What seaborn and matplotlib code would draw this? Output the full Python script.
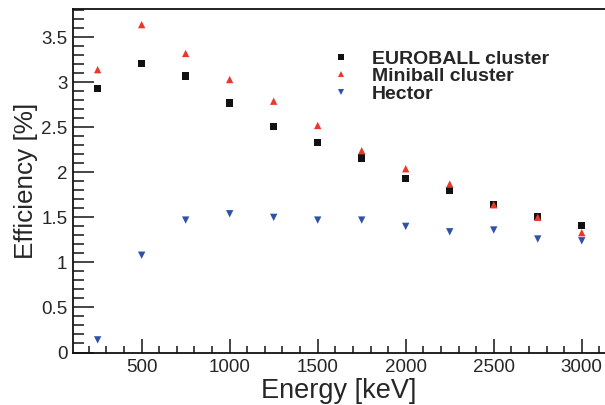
import numpy as np
import pandas as pd
import matplotlib
matplotlib.use("Agg")
import matplotlib.pyplot as plt
import seaborn as sns
from matplotlib.ticker import MultipleLocator

energy = [250, 500, 750, 1000, 1250, 1500, 1750, 2000, 2250, 2500, 2750, 3000]
euroball = [2.93, 3.21, 3.07, 2.77, 2.51, 2.33, 2.16, 1.93, 1.80, 1.64, 1.51, 1.41]
miniball = [3.14, 3.64, 3.32, 3.03, 2.79, 2.52, 2.24, 2.04, 1.87, 1.64, 1.50, 1.33]
hector = [0.14, 1.08, 1.47, 1.54, 1.50, 1.47, 1.47, 1.40, 1.34, 1.36, 1.26, 1.24]
series = ["EUROBALL cluster", "Miniball cluster", "Hector"]

df = pd.concat([
    pd.DataFrame({"Energy": energy, "Eff": euroball, "Detector": series[0]}),
    pd.DataFrame({"Energy": energy, "Eff": miniball, "Detector": series[1]}),
    pd.DataFrame({"Energy": energy, "Eff": hector, "Detector": series[2]}),
])

sns.set_style("ticks")
plt.rcParams["font.family"] = ["Liberation Sans", "DejaVu Sans"]

fig = plt.figure(figsize=(6.05, 4.05), dpi=100)
W, H = 605, 405
left, right, top, bottom = 73, 605, 9.3, 352.5
ax = fig.add_axes([left / W, 1 - bottom / H, (right - left) / W, (bottom - top) / H])

palette = {series[0]: "#111111", series[1]: "#e8392a", series[2]: "#2f51a8"}
markers = {series[0]: "s", series[1]: "^", series[2]: "v"}
sns.scatterplot(data=df, x="Energy", y="Eff", hue="Detector", style="Detector",
                palette=palette, markers=markers, s=28, linewidth=0, ax=ax)

ax.set_xlim(110, 3132)
ax.set_ylim(0, 3.81)
ax.xaxis.set_minor_locator(MultipleLocator(100))
ax.yaxis.set_minor_locator(MultipleLocator(0.1))
ax.set_xticks([500, 1000, 1500, 2000, 2500, 3000])
ax.set_xticklabels(["500", "1000", "1500", "2000", "2500", "3000"])
ax.set_yticks([0, 0.5, 1, 1.5, 2, 2.5, 3, 3.5])
ax.set_yticklabels(["0", "0.5", "1", "1.5", "2", "2.5", "3", "3.5"])

ax.tick_params(axis="y", which="major", direction="in", length=15, width=1.2, labelsize=13.5, pad=4)
ax.tick_params(axis="y", which="minor", direction="in", length=8, width=1.2)
ax.tick_params(axis="x", which="major", direction="in", length=10, width=1.2, labelsize=13.5, pad=5)
ax.tick_params(axis="x", which="minor", direction="in", length=5, width=1.2)
for sp in ["left", "bottom", "top"]:
    ax.spines[sp].set_linewidth(1.3)
    ax.spines[sp].set_color("#111111")
ax.spines["right"].set_visible(False)

ax.set_xlabel("Energy [keV]", fontsize=19.5, labelpad=1)
ax.set_ylabel("Efficiency [%]", fontsize=18.8, labelpad=2)

leg = ax.legend(frameon=False, loc="upper left", bbox_to_anchor=(322 / W, 1 - 50 / H),
                bbox_transform=fig.transFigure, prop={"weight": "bold", "size": 14},
                handlelength=2.0, handletextpad=0.55, borderpad=0, borderaxespad=0,
                labelspacing=0.0, markerscale=0.75, title=None)

fig.savefig("out.png", dpi=100)
